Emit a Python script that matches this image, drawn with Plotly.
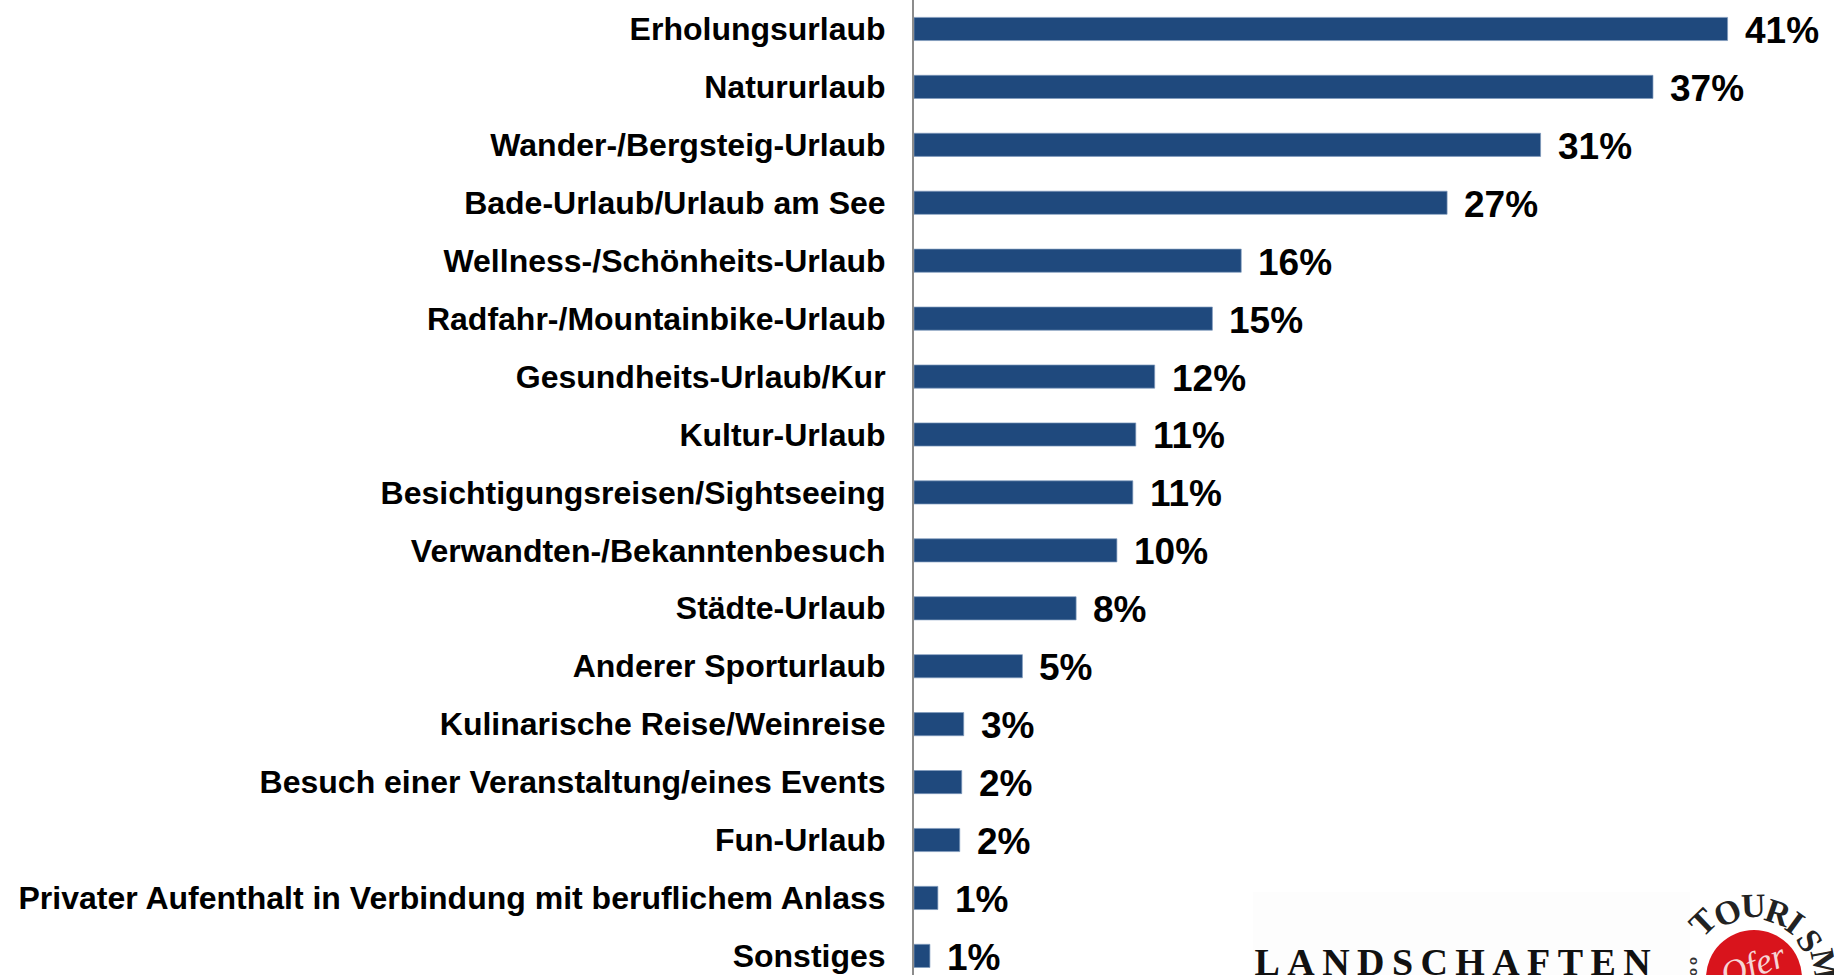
import plotly.graph_objects as go

categories = ["Erholungsurlaub", "Natururlaub", "Wander-/Bergsteig-Urlaub", "Bade-Urlaub/Urlaub am See",
              "Wellness-/Schönheits-Urlaub", "Radfahr-/Mountainbike-Urlaub", "Gesundheits-Urlaub/Kur",
              "Kultur-Urlaub", "Besichtigungsreisen/Sightseeing", "Verwandten-/Bekanntenbesuch",
              "Städte-Urlaub", "Anderer Sporturlaub", "Kulinarische Reise/Weinreise",
              "Besuch einer Veranstaltung/eines Events", "Fun-Urlaub",
              "Privater Aufenthalt in Verbindung mit beruflichem Anlass", "Sonstiges"]
values = [40.9, 37.15, 31.5, 26.8, 16.45, 15.0, 12.1, 11.15, 11.0, 10.2, 8.15, 5.45, 2.5, 2.4, 2.3, 1.2, 0.8]
value_labels = ["41%", "37%", "31%", "27%", "16%", "15%", "12%", "11%", "11%", "10%", "8%", "5%", "3%", "2%", "2%", "1%", "1%"]

FONT = "Liberation Sans"
fig = go.Figure(go.Bar(y=categories, x=values, orientation="h", width=0.4,
                       marker=dict(color="#1f497d", line=dict(color="#7f9bbd", width=0.7)),
                       hoverinfo="skip"))
for c, v, t in zip(categories, values, value_labels):
    fig.add_annotation(x=v, y=c, xref="x", yref="y", text=t, showarrow=False, xanchor="left",
                       xshift=15, yshift=-1.5, font=dict(family=FONT, size=37, color="black", weight="bold"))

W, H, L = 1834, 975, 914
def px(x): return (x - L) / (W - L)
def py(y): return 1 - y / H

# logo
fig.add_shape(type="rect", xref="paper", yref="paper", x0=px(1253), x1=px(1690), y0=py(892), y1=0,
              fillcolor="#fdfdfd", line_width=0, layer="below")
fig.add_shape(type="circle", xref="paper", yref="paper", x0=px(1706), x1=px(1802), y0=py(930), y1=py(1026),
              fillcolor="#d9141c", line_width=0)
fig.add_annotation(xref="paper", yref="paper", x=px(1297), y=py(939), text="LANDSCHAFTEN", showarrow=False,
                   xanchor="left", yanchor="top", font=dict(family="Liberation Serif", size=38, color="#111111", weight="bold"))
fig.add_annotation(xref="paper", yref="paper", x=px(1753), y=py(965), text="<i>Ofer</i>", showarrow=False,
                   xanchor="center", yanchor="middle",
                   textangle=-20, font=dict(family="Liberation Serif", size=36, color="#f6d5d5"))
letters = [("T", 1702, 922, -44), ("O", 1727, 912, -24), ("U", 1753, 905, -2), ("R", 1778, 912, 19),
           ("I", 1795, 922, 36), ("S", 1810, 940, 57), ("M", 1825, 965, 79)]
for ch, x, y, a in letters:
    fig.add_annotation(xref="paper", yref="paper", x=px(x), y=py(y), text=ch, showarrow=False, textangle=a,
                       xanchor="center", yanchor="middle",
                       font=dict(family="Liberation Serif", size=34, color="#222222", weight="bold"))
for y in (961, 972):
    fig.add_annotation(xref="paper", yref="paper", x=px(1692), y=py(y), text="o", showarrow=False, textangle=-90,
                       xanchor="center", yanchor="middle",
                       font=dict(family="Liberation Sans", size=13, color="#333333", weight="bold"))

fig.update_layout(width=W, height=H, margin=dict(l=L, r=0, t=0, b=0), showlegend=False,
                  plot_bgcolor="white", paper_bgcolor="white",
                  xaxis=dict(range=[0, 46.25], visible=False, fixedrange=True),
                  yaxis=dict(range=[16.33, -0.5], type="category", showline=True, linecolor="#8c8c8c", linewidth=2,
                             ticks="", ticklabelstandoff=20, showgrid=False,
                             tickfont=dict(family=FONT, size=32, color="black", weight="bold")))
post = """
document.documentElement.style.margin='0';document.documentElement.style.overflow='hidden';
document.body.style.margin='0';document.body.style.overflow='hidden';
document.getElementById('{plot_id}').querySelectorAll('.annotation-text').forEach(function(t){
  if(t.textContent==='LANDSCHAFTEN'){t.style.letterSpacing='7.4px';}
});
"""
fig.write_html("out.html", post_script=post, config={"displayModeBar": False})
